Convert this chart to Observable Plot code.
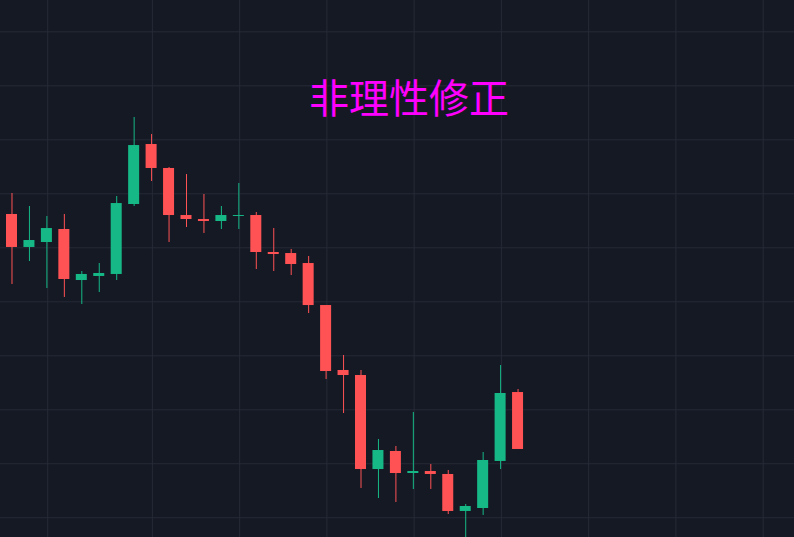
<!DOCTYPE html>
<html>
<head>
<meta charset="utf-8">
<script src="https://cdn.jsdelivr.net/npm/d3@7"></script>
<script src="https://cdn.jsdelivr.net/npm/@observablehq/plot@0.6"></script>
<style>
  html, body { margin: 0; padding: 0; background: #151924; overflow: hidden; }
  #wrap { position: relative; width: 794px; height: 537px; }
  #title {
    position: absolute; left: 409px; top: 96px;
    transform: translate(-50%, -50%);
    color: #ff00ff; font-family: "Noto Sans CJK SC", sans-serif;
    font-size: 40px; line-height: 1; white-space: nowrap;
  }
</style>
</head>
<body>
<div id="wrap"><div id="chart"></div><div id="title">非理性修正</div></div>
<script>
const idx   = d3.range(30);
const opens = [156.17,150.06,150.98,153.39,143.94,144.69,145.06,158.02,169.13,164.69,155.98,155.24,154.87,155.80,155.98,149.13,148.94,147.09,139.31,127.28,126.35,108.94,112.28,108.20,108.57,108.02,101.17,101.72,110.43,123.20];
const highs = [160.06,157.65,155.80,156.17,145.61,147.09,159.50,174.13,170.98,164.87,163.57,159.87,157.65,161.91,156.54,153.57,149.69,148.39,139.31,130.06,127.28,114.50,113.20,119.50,109.87,108.76,102.46,112.09,128.20,123.76];
const lows  = [143.20,147.46,142.46,140.80,139.50,141.72,143.94,157.65,162.28,150.98,153.76,152.65,153.39,153.39,145.98,145.61,144.87,137.83,125.61,119.31,105.43,103.57,102.83,105.24,105.24,100.61,94.87,100.43,108.94,112.65];
const closes= [150.06,151.35,153.57,144.13,145.06,145.24,158.20,168.94,164.69,155.98,155.24,154.87,155.98,155.98,149.13,148.76,146.91,139.31,127.09,126.35,108.94,112.46,108.20,108.57,108.02,101.17,102.09,110.61,123.02,112.65];
const gridX = [2, 8, 13, 18, 23, 28, 33, 38, 43];
const gridY = [100, 110, 120, 130, 140, 150, 160, 170, 180, 190];

const UP = "#16b886", DOWN = "#fe5254";
const data = idx.map(i => ({i, o: opens[i], h: highs[i], l: lows[i], c: closes[i]}));
const col = d => d.c >= d.o ? UP : DOWN;
const half = 0.3155;

const chart = Plot.plot({
  width: 794, height: 537,
  marginTop: 0, marginBottom: 0, marginLeft: 0, marginRight: 0,
  style: {background: "#151924"},
  x: {domain: [-0.659, 44.842], axis: null},
  y: {domain: [96.35, 195.80], axis: null},
  clip: true,
  marks: [
    Plot.ruleY(gridY, {stroke: "#262a37", strokeWidth: 1}),
    Plot.ruleX(gridX, {stroke: "#262a37", strokeWidth: 1, dx: 0.8}),
    Plot.ruleX(data, {x: "i", y1: "l", y2: "h", stroke: col, strokeWidth: 1}),
    Plot.rect(data, {x1: d => d.i - half, x2: d => d.i + half, y1: "o", y2: "c", fill: col})
  ]
});
document.getElementById("chart").appendChild(chart);
</script>
</body>
</html>
